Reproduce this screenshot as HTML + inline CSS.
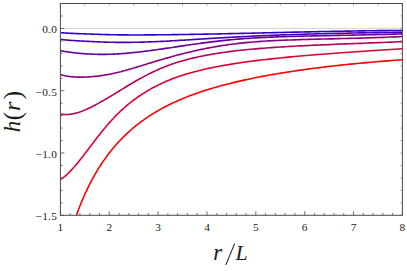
<!DOCTYPE html>
<html><head><meta charset="utf-8"><title>plot</title>
<style>
html,body{margin:0;padding:0;background:#fff;}
body{width:407px;height:271px;position:relative;overflow:hidden;font-family:"Liberation Serif",serif;}
</style></head><body>
<svg width="407" height="271" viewBox="0 0 407 271" style="position:absolute;left:0;top:0">
<defs><clipPath id="cp"><rect x="60.4" y="3.5" width="342.0" height="211.8"/></clipPath></defs>
<line x1="60.4" y1="28.42" x2="402.4" y2="28.42" stroke="#d4d4d4" stroke-width="1"/>
<g clip-path="url(#cp)" fill="none" stroke-width="1.6" stroke-linejoin="round">
<path d="M60.4,32.65 L60.9,32.69 L61.4,32.74 L62.0,32.78 L62.5,32.82 L63.0,32.86 L63.6,32.90 L64.1,32.94 L64.7,32.98 L65.2,33.02 L65.8,33.05 L66.4,33.09 L66.9,33.12 L67.5,33.15 L68.1,33.18 L68.7,33.22 L69.3,33.25 L69.9,33.28 L70.5,33.31 L71.1,33.33 L71.8,33.36 L72.4,33.39 L73.0,33.42 L73.7,33.45 L74.3,33.47 L75.0,33.50 L75.7,33.53 L76.3,33.55 L77.0,33.58 L77.7,33.60 L78.4,33.63 L79.1,33.66 L79.8,33.68 L80.5,33.71 L81.2,33.74 L82.0,33.76 L82.7,33.79 L83.5,33.82 L84.2,33.85 L85.0,33.87 L85.8,33.90 L86.5,33.93 L87.3,33.96 L88.1,33.99 L88.9,34.02 L89.7,34.05 L90.6,34.08 L91.4,34.11 L92.2,34.14 L93.1,34.17 L93.9,34.20 L94.8,34.23 L95.7,34.26 L96.5,34.29 L97.4,34.32 L98.3,34.35 L99.3,34.38 L100.2,34.41 L101.1,34.44 L102.0,34.47 L103.0,34.50 L104.0,34.53 L104.9,34.55 L105.9,34.58 L106.9,34.61 L107.9,34.63 L108.9,34.66 L109.9,34.68 L111.0,34.70 L112.0,34.73 L113.1,34.75 L114.1,34.77 L115.2,34.79 L116.3,34.80 L117.4,34.82 L118.5,34.84 L119.6,34.85 L120.8,34.87 L121.9,34.88 L123.1,34.89 L124.3,34.90 L125.4,34.91 L126.6,34.92 L127.8,34.92 L129.1,34.93 L130.3,34.93 L131.6,34.94 L132.8,34.94 L134.1,34.94 L135.4,34.94 L136.7,34.94 L138.0,34.94 L139.3,34.94 L140.7,34.94 L142.0,34.93 L143.4,34.93 L144.8,34.92 L146.2,34.91 L147.6,34.90 L149.0,34.89 L150.5,34.88 L151.9,34.87 L153.4,34.86 L154.9,34.85 L156.4,34.84 L157.9,34.82 L159.4,34.81 L161.0,34.79 L162.6,34.78 L164.2,34.76 L165.8,34.74 L167.4,34.72 L169.0,34.70 L170.7,34.68 L172.3,34.66 L174.0,34.64 L175.7,34.62 L177.5,34.59 L179.2,34.57 L181.0,34.54 L182.7,34.52 L184.5,34.49 L186.4,34.46 L188.2,34.43 L190.1,34.41 L191.9,34.37 L193.8,34.34 L195.7,34.31 L197.7,34.28 L199.6,34.25 L201.6,34.21 L203.6,34.17 L205.6,34.14 L207.7,34.10 L209.7,34.06 L211.8,34.02 L213.9,33.98 L216.0,33.94 L218.2,33.90 L220.3,33.85 L222.5,33.81 L224.8,33.76 L227.0,33.72 L229.3,33.67 L231.5,33.62 L233.9,33.57 L236.2,33.52 L238.5,33.47 L240.9,33.41 L243.3,33.36 L245.8,33.30 L248.2,33.24 L250.7,33.19 L253.2,33.13 L255.8,33.07 L258.3,33.01 L260.9,32.94 L263.6,32.88 L266.2,32.82 L268.9,32.75 L271.6,32.69 L274.3,32.62 L277.1,32.56 L279.9,32.49 L282.7,32.43 L285.5,32.36 L288.4,32.29 L291.3,32.23 L294.2,32.16 L297.2,32.09 L300.2,32.03 L303.3,31.96 L306.3,31.89 L309.4,31.83 L312.5,31.76 L315.7,31.69 L318.9,31.63 L322.1,31.57 L325.4,31.50 L328.7,31.44 L332.0,31.38 L335.4,31.32 L338.8,31.25 L342.2,31.20 L345.7,31.14 L349.2,31.08 L352.8,31.02 L356.3,30.97 L360.0,30.91 L363.6,30.86 L367.3,30.81 L371.1,30.76 L374.8,30.71 L378.6,30.67 L382.5,30.62 L386.4,30.58 L390.3,30.54 L394.3,30.50 L398.3,30.46 L402.4,30.43" stroke="#3000cc"/>
<path d="M60.4,39.30 L60.9,39.37 L61.4,39.44 L62.0,39.51 L62.5,39.58 L63.0,39.64 L63.6,39.71 L64.1,39.77 L64.7,39.83 L65.2,39.89 L65.8,39.94 L66.4,40.00 L66.9,40.05 L67.5,40.11 L68.1,40.16 L68.7,40.21 L69.3,40.26 L69.9,40.30 L70.5,40.35 L71.1,40.40 L71.8,40.44 L72.4,40.49 L73.0,40.53 L73.7,40.57 L74.3,40.62 L75.0,40.66 L75.7,40.70 L76.3,40.74 L77.0,40.78 L77.7,40.82 L78.4,40.86 L79.1,40.90 L79.8,40.94 L80.5,40.98 L81.2,41.02 L82.0,41.06 L82.7,41.10 L83.5,41.14 L84.2,41.18 L85.0,41.22 L85.8,41.26 L86.5,41.30 L87.3,41.34 L88.1,41.38 L88.9,41.42 L89.7,41.46 L90.6,41.50 L91.4,41.55 L92.2,41.59 L93.1,41.63 L93.9,41.67 L94.8,41.71 L95.7,41.75 L96.5,41.79 L97.4,41.83 L98.3,41.86 L99.3,41.90 L100.2,41.94 L101.1,41.97 L102.0,42.01 L103.0,42.04 L104.0,42.07 L104.9,42.10 L105.9,42.13 L106.9,42.16 L107.9,42.19 L108.9,42.22 L109.9,42.24 L111.0,42.26 L112.0,42.28 L113.1,42.30 L114.1,42.32 L115.2,42.34 L116.3,42.35 L117.4,42.36 L118.5,42.37 L119.6,42.38 L120.8,42.39 L121.9,42.39 L123.1,42.39 L124.3,42.39 L125.4,42.39 L126.6,42.38 L127.8,42.38 L129.1,42.36 L130.3,42.35 L131.6,42.34 L132.8,42.32 L134.1,42.30 L135.4,42.28 L136.7,42.25 L138.0,42.23 L139.3,42.20 L140.7,42.16 L142.0,42.13 L143.4,42.09 L144.8,42.05 L146.2,42.00 L147.6,41.96 L149.0,41.91 L150.5,41.86 L151.9,41.80 L153.4,41.75 L154.9,41.68 L156.4,41.62 L157.9,41.56 L159.4,41.49 L161.0,41.41 L162.6,41.34 L164.2,41.26 L165.8,41.18 L167.4,41.09 L169.0,41.01 L170.7,40.91 L172.3,40.82 L174.0,40.72 L175.7,40.62 L177.5,40.52 L179.2,40.42 L181.0,40.31 L182.7,40.20 L184.5,40.09 L186.4,39.98 L188.2,39.86 L190.1,39.74 L191.9,39.63 L193.8,39.51 L195.7,39.38 L197.7,39.26 L199.6,39.14 L201.6,39.01 L203.6,38.88 L205.6,38.76 L207.7,38.63 L209.7,38.50 L211.8,38.37 L213.9,38.24 L216.0,38.11 L218.2,37.98 L220.3,37.86 L222.5,37.73 L224.8,37.60 L227.0,37.47 L229.3,37.34 L231.5,37.21 L233.9,37.08 L236.2,36.96 L238.5,36.83 L240.9,36.71 L243.3,36.59 L245.8,36.46 L248.2,36.34 L250.7,36.23 L253.2,36.11 L255.8,35.99 L258.3,35.88 L260.9,35.76 L263.6,35.65 L266.2,35.54 L268.9,35.43 L271.6,35.33 L274.3,35.22 L277.1,35.12 L279.9,35.01 L282.7,34.91 L285.5,34.81 L288.4,34.71 L291.3,34.62 L294.2,34.52 L297.2,34.43 L300.2,34.33 L303.3,34.24 L306.3,34.15 L309.4,34.06 L312.5,33.98 L315.7,33.89 L318.9,33.81 L322.1,33.73 L325.4,33.64 L328.7,33.57 L332.0,33.49 L335.4,33.41 L338.8,33.34 L342.2,33.26 L345.7,33.19 L349.2,33.12 L352.8,33.05 L356.3,32.98 L360.0,32.92 L363.6,32.85 L367.3,32.79 L371.1,32.73 L374.8,32.66 L378.6,32.61 L382.5,32.55 L386.4,32.49 L390.3,32.44 L394.3,32.38 L398.3,32.33 L402.4,32.28" stroke="#4800b8"/>
<path d="M60.4,50.70 L60.9,50.79 L61.4,50.88 L62.0,50.98 L62.5,51.07 L63.0,51.16 L63.6,51.25 L64.1,51.34 L64.7,51.43 L65.2,51.52 L65.8,51.61 L66.4,51.70 L66.9,51.78 L67.5,51.87 L68.1,51.96 L68.7,52.04 L69.3,52.13 L69.9,52.21 L70.5,52.30 L71.1,52.38 L71.8,52.46 L72.4,52.54 L73.0,52.62 L73.7,52.70 L74.3,52.78 L75.0,52.86 L75.7,52.93 L76.3,53.00 L77.0,53.08 L77.7,53.15 L78.4,53.22 L79.1,53.29 L79.8,53.35 L80.5,53.42 L81.2,53.48 L82.0,53.55 L82.7,53.61 L83.5,53.66 L84.2,53.72 L85.0,53.78 L85.8,53.83 L86.5,53.88 L87.3,53.93 L88.1,53.98 L88.9,54.03 L89.7,54.07 L90.6,54.11 L91.4,54.15 L92.2,54.18 L93.1,54.22 L93.9,54.25 L94.8,54.27 L95.7,54.30 L96.5,54.32 L97.4,54.34 L98.3,54.35 L99.3,54.36 L100.2,54.37 L101.1,54.38 L102.0,54.38 L103.0,54.38 L104.0,54.37 L104.9,54.36 L105.9,54.35 L106.9,54.33 L107.9,54.31 L108.9,54.28 L109.9,54.25 L111.0,54.22 L112.0,54.18 L113.1,54.14 L114.1,54.09 L115.2,54.03 L116.3,53.98 L117.4,53.91 L118.5,53.85 L119.6,53.77 L120.8,53.69 L121.9,53.61 L123.1,53.52 L124.3,53.43 L125.4,53.33 L126.6,53.23 L127.8,53.12 L129.1,53.01 L130.3,52.89 L131.6,52.77 L132.8,52.64 L134.1,52.51 L135.4,52.37 L136.7,52.23 L138.0,52.08 L139.3,51.93 L140.7,51.77 L142.0,51.61 L143.4,51.44 L144.8,51.27 L146.2,51.10 L147.6,50.92 L149.0,50.73 L150.5,50.54 L151.9,50.35 L153.4,50.15 L154.9,49.95 L156.4,49.74 L157.9,49.53 L159.4,49.31 L161.0,49.09 L162.6,48.86 L164.2,48.64 L165.8,48.40 L167.4,48.16 L169.0,47.92 L170.7,47.67 L172.3,47.42 L174.0,47.17 L175.7,46.91 L177.5,46.65 L179.2,46.39 L181.0,46.13 L182.7,45.86 L184.5,45.59 L186.4,45.32 L188.2,45.05 L190.1,44.78 L191.9,44.51 L193.8,44.24 L195.7,43.97 L197.7,43.70 L199.6,43.43 L201.6,43.16 L203.6,42.89 L205.6,42.63 L207.7,42.36 L209.7,42.10 L211.8,41.85 L213.9,41.59 L216.0,41.34 L218.2,41.09 L220.3,40.85 L222.5,40.61 L224.8,40.37 L227.0,40.14 L229.3,39.92 L231.5,39.70 L233.9,39.49 L236.2,39.28 L238.5,39.08 L240.9,38.89 L243.3,38.70 L245.8,38.52 L248.2,38.35 L250.7,38.18 L253.2,38.03 L255.8,37.88 L258.3,37.73 L260.9,37.60 L263.6,37.47 L266.2,37.34 L268.9,37.22 L271.6,37.11 L274.3,37.00 L277.1,36.89 L279.9,36.79 L282.7,36.70 L285.5,36.61 L288.4,36.52 L291.3,36.43 L294.2,36.35 L297.2,36.28 L300.2,36.20 L303.3,36.13 L306.3,36.05 L309.4,35.98 L312.5,35.92 L315.7,35.85 L318.9,35.78 L322.1,35.72 L325.4,35.65 L328.7,35.59 L332.0,35.52 L335.4,35.46 L338.8,35.39 L342.2,35.32 L345.7,35.26 L349.2,35.19 L352.8,35.11 L356.3,35.04 L360.0,34.96 L363.6,34.89 L367.3,34.80 L371.1,34.72 L374.8,34.63 L378.6,34.54 L382.5,34.44 L386.4,34.34 L390.3,34.24 L394.3,34.13 L398.3,34.01 L402.4,33.89" stroke="#64009e"/>
<path d="M60.4,74.49 L60.9,74.66 L61.4,74.82 L62.0,74.98 L62.5,75.13 L63.0,75.28 L63.6,75.42 L64.1,75.55 L64.7,75.68 L65.2,75.80 L65.8,75.92 L66.4,76.03 L66.9,76.13 L67.5,76.23 L68.1,76.32 L68.7,76.41 L69.3,76.49 L69.9,76.57 L70.5,76.64 L71.1,76.71 L71.8,76.77 L72.4,76.82 L73.0,76.87 L73.7,76.92 L74.3,76.96 L75.0,77.00 L75.7,77.03 L76.3,77.05 L77.0,77.08 L77.7,77.09 L78.4,77.11 L79.1,77.11 L79.8,77.12 L80.5,77.12 L81.2,77.11 L82.0,77.10 L82.7,77.09 L83.5,77.08 L84.2,77.05 L85.0,77.03 L85.8,77.00 L86.5,76.97 L87.3,76.93 L88.1,76.89 L88.9,76.85 L89.7,76.80 L90.6,76.74 L91.4,76.68 L92.2,76.62 L93.1,76.55 L93.9,76.47 L94.8,76.39 L95.7,76.30 L96.5,76.21 L97.4,76.11 L98.3,76.00 L99.3,75.89 L100.2,75.77 L101.1,75.64 L102.0,75.51 L103.0,75.36 L104.0,75.22 L104.9,75.06 L105.9,74.90 L106.9,74.72 L107.9,74.54 L108.9,74.36 L109.9,74.16 L111.0,73.95 L112.0,73.74 L113.1,73.51 L114.1,73.28 L115.2,73.04 L116.3,72.79 L117.4,72.53 L118.5,72.26 L119.6,71.98 L120.8,71.69 L121.9,71.38 L123.1,71.08 L124.3,70.76 L125.4,70.43 L126.6,70.09 L127.8,69.75 L129.1,69.39 L130.3,69.03 L131.6,68.67 L132.8,68.29 L134.1,67.91 L135.4,67.52 L136.7,67.13 L138.0,66.73 L139.3,66.32 L140.7,65.91 L142.0,65.49 L143.4,65.07 L144.8,64.64 L146.2,64.21 L147.6,63.77 L149.0,63.33 L150.5,62.89 L151.9,62.44 L153.4,61.99 L154.9,61.54 L156.4,61.09 L157.9,60.63 L159.4,60.17 L161.0,59.71 L162.6,59.25 L164.2,58.79 L165.8,58.33 L167.4,57.86 L169.0,57.40 L170.7,56.93 L172.3,56.47 L174.0,56.01 L175.7,55.55 L177.5,55.09 L179.2,54.63 L181.0,54.17 L182.7,53.72 L184.5,53.26 L186.4,52.81 L188.2,52.37 L190.1,51.93 L191.9,51.49 L193.8,51.05 L195.7,50.62 L197.7,50.20 L199.6,49.77 L201.6,49.36 L203.6,48.95 L205.6,48.55 L207.7,48.15 L209.7,47.76 L211.8,47.37 L213.9,46.99 L216.0,46.63 L218.2,46.26 L220.3,45.91 L222.5,45.56 L224.8,45.23 L227.0,44.90 L229.3,44.58 L231.5,44.27 L233.9,43.97 L236.2,43.69 L238.5,43.41 L240.9,43.14 L243.3,42.88 L245.8,42.64 L248.2,42.41 L250.7,42.19 L253.2,41.98 L255.8,41.78 L258.3,41.59 L260.9,41.41 L263.6,41.24 L266.2,41.07 L268.9,40.92 L271.6,40.77 L274.3,40.64 L277.1,40.50 L279.9,40.38 L282.7,40.26 L285.5,40.15 L288.4,40.04 L291.3,39.94 L294.2,39.84 L297.2,39.74 L300.2,39.65 L303.3,39.56 L306.3,39.48 L309.4,39.39 L312.5,39.31 L315.7,39.23 L318.9,39.15 L322.1,39.07 L325.4,38.99 L328.7,38.91 L332.0,38.83 L335.4,38.75 L338.8,38.66 L342.2,38.57 L345.7,38.48 L349.2,38.39 L352.8,38.29 L356.3,38.19 L360.0,38.09 L363.6,37.98 L367.3,37.86 L371.1,37.74 L374.8,37.61 L378.6,37.48 L382.5,37.34 L386.4,37.19 L390.3,37.03 L394.3,36.86 L398.3,36.69 L402.4,36.50" stroke="#8c0082"/>
<path d="M60.4,114.02 L60.9,114.12 L61.4,114.21 L62.0,114.29 L62.5,114.36 L63.0,114.42 L63.6,114.47 L64.1,114.51 L64.7,114.53 L65.2,114.55 L65.8,114.56 L66.4,114.55 L66.9,114.54 L67.5,114.51 L68.1,114.48 L68.7,114.43 L69.3,114.37 L69.9,114.30 L70.5,114.22 L71.1,114.13 L71.8,114.03 L72.4,113.91 L73.0,113.79 L73.7,113.65 L74.3,113.51 L75.0,113.35 L75.7,113.18 L76.3,113.00 L77.0,112.81 L77.7,112.61 L78.4,112.39 L79.1,112.17 L79.8,111.93 L80.5,111.68 L81.2,111.42 L82.0,111.15 L82.7,110.87 L83.5,110.57 L84.2,110.27 L85.0,109.95 L85.8,109.62 L86.5,109.28 L87.3,108.93 L88.1,108.57 L88.9,108.19 L89.7,107.80 L90.6,107.41 L91.4,107.00 L92.2,106.58 L93.1,106.15 L93.9,105.71 L94.8,105.26 L95.7,104.80 L96.5,104.33 L97.4,103.84 L98.3,103.35 L99.3,102.85 L100.2,102.33 L101.1,101.81 L102.0,101.28 L103.0,100.73 L104.0,100.18 L104.9,99.62 L105.9,99.05 L106.9,98.47 L107.9,97.88 L108.9,97.28 L109.9,96.67 L111.0,96.05 L112.0,95.42 L113.1,94.78 L114.1,94.14 L115.2,93.48 L116.3,92.82 L117.4,92.15 L118.5,91.47 L119.6,90.78 L120.8,90.08 L121.9,89.38 L123.1,88.67 L124.3,87.95 L125.4,87.23 L126.6,86.50 L127.8,85.77 L129.1,85.03 L130.3,84.29 L131.6,83.55 L132.8,82.81 L134.1,82.06 L135.4,81.31 L136.7,80.56 L138.0,79.81 L139.3,79.07 L140.7,78.32 L142.0,77.58 L143.4,76.84 L144.8,76.10 L146.2,75.36 L147.6,74.63 L149.0,73.90 L150.5,73.18 L151.9,72.47 L153.4,71.76 L154.9,71.06 L156.4,70.37 L157.9,69.68 L159.4,69.01 L161.0,68.34 L162.6,67.68 L164.2,67.04 L165.8,66.40 L167.4,65.78 L169.0,65.17 L170.7,64.57 L172.3,63.98 L174.0,63.41 L175.7,62.85 L177.5,62.30 L179.2,61.76 L181.0,61.23 L182.7,60.72 L184.5,60.22 L186.4,59.72 L188.2,59.24 L190.1,58.77 L191.9,58.31 L193.8,57.86 L195.7,57.42 L197.7,56.99 L199.6,56.57 L201.6,56.16 L203.6,55.76 L205.6,55.37 L207.7,54.98 L209.7,54.61 L211.8,54.25 L213.9,53.89 L216.0,53.55 L218.2,53.21 L220.3,52.88 L222.5,52.56 L224.8,52.24 L227.0,51.94 L229.3,51.64 L231.5,51.35 L233.9,51.07 L236.2,50.79 L238.5,50.53 L240.9,50.27 L243.3,50.01 L245.8,49.76 L248.2,49.52 L250.7,49.29 L253.2,49.06 L255.8,48.84 L258.3,48.62 L260.9,48.41 L263.6,48.20 L266.2,48.00 L268.9,47.80 L271.6,47.61 L274.3,47.42 L277.1,47.24 L279.9,47.06 L282.7,46.89 L285.5,46.72 L288.4,46.55 L291.3,46.38 L294.2,46.22 L297.2,46.06 L300.2,45.91 L303.3,45.75 L306.3,45.60 L309.4,45.45 L312.5,45.31 L315.7,45.16 L318.9,45.02 L322.1,44.87 L325.4,44.73 L328.7,44.59 L332.0,44.45 L335.4,44.31 L338.8,44.17 L342.2,44.03 L345.7,43.89 L349.2,43.75 L352.8,43.61 L356.3,43.47 L360.0,43.33 L363.6,43.19 L367.3,43.04 L371.1,42.90 L374.8,42.75 L378.6,42.60 L382.5,42.45 L386.4,42.29 L390.3,42.14 L394.3,41.98 L398.3,41.82 L402.4,41.65" stroke="#b4005a"/>
<path d="M60.4,179.54 L60.9,179.23 L61.4,178.91 L62.0,178.56 L62.5,178.20 L63.0,177.81 L63.6,177.40 L64.1,176.98 L64.7,176.53 L65.2,176.06 L65.8,175.57 L66.4,175.07 L66.9,174.54 L67.5,174.00 L68.1,173.43 L68.7,172.85 L69.3,172.25 L69.9,171.63 L70.5,170.99 L71.1,170.33 L71.8,169.66 L72.4,168.96 L73.0,168.25 L73.7,167.52 L74.3,166.77 L75.0,166.01 L75.7,165.23 L76.3,164.43 L77.0,163.61 L77.7,162.78 L78.4,161.93 L79.1,161.06 L79.8,160.18 L80.5,159.28 L81.2,158.36 L82.0,157.43 L82.7,156.49 L83.5,155.52 L84.2,154.54 L85.0,153.55 L85.8,152.54 L86.5,151.52 L87.3,150.48 L88.1,149.43 L88.9,148.37 L89.7,147.29 L90.6,146.21 L91.4,145.11 L92.2,144.01 L93.1,142.89 L93.9,141.77 L94.8,140.64 L95.7,139.51 L96.5,138.36 L97.4,137.22 L98.3,136.06 L99.3,134.91 L100.2,133.75 L101.1,132.58 L102.0,131.42 L103.0,130.25 L104.0,129.09 L104.9,127.92 L105.9,126.76 L106.9,125.59 L107.9,124.43 L108.9,123.27 L109.9,122.12 L111.0,120.97 L112.0,119.82 L113.1,118.69 L114.1,117.55 L115.2,116.43 L116.3,115.31 L117.4,114.20 L118.5,113.10 L119.6,112.01 L120.8,110.93 L121.9,109.86 L123.1,108.80 L124.3,107.75 L125.4,106.72 L126.6,105.69 L127.8,104.67 L129.1,103.67 L130.3,102.67 L131.6,101.69 L132.8,100.71 L134.1,99.75 L135.4,98.80 L136.7,97.86 L138.0,96.93 L139.3,96.02 L140.7,95.11 L142.0,94.22 L143.4,93.34 L144.8,92.46 L146.2,91.61 L147.6,90.76 L149.0,89.92 L150.5,89.10 L151.9,88.29 L153.4,87.49 L154.9,86.70 L156.4,85.92 L157.9,85.16 L159.4,84.41 L161.0,83.67 L162.6,82.95 L164.2,82.23 L165.8,81.53 L167.4,80.84 L169.0,80.17 L170.7,79.50 L172.3,78.85 L174.0,78.21 L175.7,77.59 L177.5,76.97 L179.2,76.37 L181.0,75.78 L182.7,75.20 L184.5,74.63 L186.4,74.07 L188.2,73.52 L190.1,72.98 L191.9,72.46 L193.8,71.94 L195.7,71.43 L197.7,70.93 L199.6,70.44 L201.6,69.96 L203.6,69.49 L205.6,69.03 L207.7,68.58 L209.7,68.13 L211.8,67.69 L213.9,67.26 L216.0,66.84 L218.2,66.43 L220.3,66.02 L222.5,65.62 L224.8,65.23 L227.0,64.84 L229.3,64.46 L231.5,64.09 L233.9,63.72 L236.2,63.36 L238.5,63.01 L240.9,62.66 L243.3,62.31 L245.8,61.97 L248.2,61.64 L250.7,61.31 L253.2,60.98 L255.8,60.66 L258.3,60.35 L260.9,60.04 L263.6,59.73 L266.2,59.42 L268.9,59.12 L271.6,58.83 L274.3,58.53 L277.1,58.24 L279.9,57.96 L282.7,57.68 L285.5,57.40 L288.4,57.12 L291.3,56.84 L294.2,56.57 L297.2,56.30 L300.2,56.04 L303.3,55.77 L306.3,55.51 L309.4,55.25 L312.5,54.99 L315.7,54.73 L318.9,54.48 L322.1,54.22 L325.4,53.97 L328.7,53.72 L332.0,53.47 L335.4,53.22 L338.8,52.97 L342.2,52.72 L345.7,52.47 L349.2,52.22 L352.8,51.98 L356.3,51.73 L360.0,51.48 L363.6,51.23 L367.3,50.99 L371.1,50.74 L374.8,50.49 L378.6,50.24 L382.5,49.99 L386.4,49.74 L390.3,49.48 L394.3,49.23 L398.3,48.97 L402.4,48.72" stroke="#dc0030"/>
<path d="M70.2,236.01 L70.7,233.91 L71.3,231.86 L71.9,229.83 L72.5,227.84 L73.0,225.89 L73.6,223.96 L74.2,222.06 L74.8,220.20 L75.4,218.36 L76.0,216.54 L76.7,214.76 L77.3,213.00 L77.9,211.26 L78.5,209.55 L79.2,207.85 L79.8,206.18 L80.5,204.53 L81.1,202.90 L81.8,201.28 L82.5,199.68 L83.2,198.10 L83.9,196.53 L84.5,194.97 L85.2,193.43 L86.0,191.90 L86.7,190.38 L87.4,188.87 L88.1,187.38 L88.8,185.89 L89.6,184.42 L90.3,182.96 L91.1,181.51 L91.8,180.08 L92.6,178.65 L93.4,177.24 L94.2,175.84 L95.0,174.44 L95.8,173.07 L96.6,171.70 L97.4,170.34 L98.2,168.99 L99.0,167.66 L99.9,166.34 L100.7,165.02 L101.6,163.72 L102.4,162.43 L103.3,161.15 L104.2,159.88 L105.1,158.62 L106.0,157.38 L106.9,156.14 L107.8,154.91 L108.7,153.70 L109.6,152.49 L110.6,151.30 L111.5,150.11 L112.5,148.94 L113.5,147.78 L114.4,146.62 L115.4,145.48 L116.4,144.35 L117.4,143.23 L118.4,142.11 L119.5,141.01 L120.5,139.92 L121.5,138.84 L122.6,137.76 L123.7,136.70 L124.7,135.65 L125.8,134.60 L126.9,133.57 L128.0,132.55 L129.1,131.53 L130.3,130.53 L131.4,129.53 L132.5,128.55 L133.7,127.57 L134.9,126.60 L136.0,125.64 L137.2,124.69 L138.4,123.76 L139.7,122.82 L140.9,121.90 L142.1,120.99 L143.4,120.09 L144.6,119.19 L145.9,118.31 L147.2,117.43 L148.5,116.56 L149.8,115.70 L151.1,114.85 L152.5,114.01 L153.8,113.17 L155.2,112.35 L156.6,111.53 L158.0,110.72 L159.4,109.92 L160.8,109.13 L162.2,108.35 L163.6,107.57 L165.1,106.80 L166.6,106.04 L168.1,105.29 L169.6,104.55 L171.1,103.81 L172.6,103.09 L174.1,102.37 L175.7,101.65 L177.3,100.95 L178.9,100.25 L180.5,99.56 L182.1,98.88 L183.7,98.20 L185.4,97.54 L187.0,96.87 L188.7,96.22 L190.4,95.57 L192.1,94.93 L193.8,94.30 L195.6,93.67 L197.4,93.05 L199.1,92.44 L200.9,91.83 L202.7,91.23 L204.6,90.63 L206.4,90.04 L208.3,89.46 L210.2,88.88 L212.1,88.31 L214.0,87.74 L215.9,87.18 L217.9,86.63 L219.9,86.08 L221.9,85.54 L223.9,85.00 L225.9,84.47 L228.0,83.94 L230.0,83.42 L232.1,82.90 L234.3,82.39 L236.4,81.88 L238.5,81.38 L240.7,80.88 L242.9,80.39 L245.1,79.90 L247.4,79.41 L249.6,78.93 L251.9,78.46 L254.2,77.99 L256.5,77.52 L258.9,77.06 L261.2,76.60 L263.6,76.15 L266.1,75.70 L268.5,75.25 L271.0,74.81 L273.4,74.38 L275.9,73.94 L278.5,73.52 L281.0,73.09 L283.6,72.67 L286.2,72.26 L288.9,71.85 L291.5,71.44 L294.2,71.04 L296.9,70.64 L299.6,70.24 L302.4,69.85 L305.2,69.47 L308.0,69.09 L310.8,68.71 L313.7,68.33 L316.6,67.97 L319.5,67.60 L322.5,67.24 L325.4,66.88 L328.5,66.53 L331.5,66.18 L334.6,65.83 L337.6,65.49 L340.8,65.15 L343.9,64.82 L347.1,64.49 L350.3,64.16 L353.6,63.84 L356.8,63.52 L360.1,63.21 L363.5,62.90 L366.9,62.59 L370.3,62.29 L373.7,61.99 L377.2,61.70 L380.7,61.41 L384.2,61.12 L387.8,60.83 L391.4,60.55 L395.0,60.28 L398.7,60.01 L402.4,59.74" stroke="#ff0000"/>
</g>
<path d="M60.40,215.3 v-4.0 M70.17,215.3 v-2.2 M79.94,215.3 v-2.2 M89.71,215.3 v-2.2 M99.49,215.3 v-2.2 M109.26,215.3 v-4.0 M119.03,215.3 v-2.2 M128.80,215.3 v-2.2 M138.57,215.3 v-2.2 M148.34,215.3 v-2.2 M158.11,215.3 v-4.0 M167.89,215.3 v-2.2 M177.66,215.3 v-2.2 M187.43,215.3 v-2.2 M197.20,215.3 v-2.2 M206.97,215.3 v-4.0 M216.74,215.3 v-2.2 M226.51,215.3 v-2.2 M236.29,215.3 v-2.2 M246.06,215.3 v-2.2 M255.83,215.3 v-4.0 M265.60,215.3 v-2.2 M275.37,215.3 v-2.2 M285.14,215.3 v-2.2 M294.91,215.3 v-2.2 M304.69,215.3 v-4.0 M314.46,215.3 v-2.2 M324.23,215.3 v-2.2 M334.00,215.3 v-2.2 M343.77,215.3 v-2.2 M353.54,215.3 v-4.0 M363.31,215.3 v-2.2 M373.09,215.3 v-2.2 M382.86,215.3 v-2.2 M392.63,215.3 v-2.2 M402.40,215.3 v-4.0 M60.4,215.30 h4.0 M60.4,202.84 h2.2 M60.4,190.38 h2.2 M60.4,177.92 h2.2 M60.4,165.46 h2.2 M60.4,153.01 h4.0 M60.4,140.55 h2.2 M60.4,128.09 h2.2 M60.4,115.63 h2.2 M60.4,103.17 h2.2 M60.4,90.71 h4.0 M60.4,78.25 h2.2 M60.4,65.79 h2.2 M60.4,53.34 h2.2 M60.4,40.88 h2.2 M60.4,28.42 h4.0 M60.4,15.96 h2.2 M60.4,3.50 h2.2" stroke="#4a4a4a" stroke-width="0.8" fill="none"/>
<path d="M60.40,3.5 v2.6 M84.83,3.5 v2.6 M109.26,3.5 v2.6 M133.69,3.5 v2.6 M158.11,3.5 v2.6 M182.54,3.5 v2.6 M206.97,3.5 v2.6 M231.40,3.5 v2.6 M255.83,3.5 v2.6 M280.26,3.5 v2.6 M304.69,3.5 v2.6 M329.11,3.5 v2.6 M353.54,3.5 v2.6 M377.97,3.5 v2.6 M402.40,3.5 v2.6 M402.4,215.30 h-2.4 M402.4,202.84 h-2.4 M402.4,190.38 h-2.4 M402.4,177.92 h-2.4 M402.4,165.46 h-2.4 M402.4,153.01 h-2.4 M402.4,140.55 h-2.4 M402.4,128.09 h-2.4 M402.4,115.63 h-2.4 M402.4,103.17 h-2.4 M402.4,90.71 h-2.4 M402.4,78.25 h-2.4 M402.4,65.79 h-2.4 M402.4,53.34 h-2.4 M402.4,40.88 h-2.4 M402.4,28.42 h-2.4 M402.4,15.96 h-2.4 M402.4,3.50 h-2.4" stroke="#8a8a8a" stroke-width="0.6" fill="none"/>
<rect x="60.4" y="3.5" width="342.0" height="211.8" fill="none" stroke="#4a4a4a" stroke-width="1"/>
<g font-family="Liberation Serif, serif" font-size="11.3px" fill="#1a1a1a">
<text x="60.40" y="231.2" text-anchor="middle">1</text>
<text x="109.26" y="231.2" text-anchor="middle">2</text>
<text x="158.11" y="231.2" text-anchor="middle">3</text>
<text x="206.97" y="231.2" text-anchor="middle">4</text>
<text x="255.83" y="231.2" text-anchor="middle">5</text>
<text x="304.69" y="231.2" text-anchor="middle">6</text>
<text x="353.54" y="231.2" text-anchor="middle">7</text>
<text x="402.40" y="231.2" text-anchor="middle">8</text>
<text x="57.2" y="33.22" text-anchor="end" letter-spacing="0.3">0.0</text>
<text x="57.2" y="95.51" text-anchor="end" letter-spacing="0.3">−0.5</text>
<text x="57.2" y="157.81" text-anchor="end" letter-spacing="0.3">−1.0</text>
<text x="57.2" y="220.10" text-anchor="end" letter-spacing="0.3">−1.5</text>
</g>
<g font-family="Liberation Serif, serif" font-style="italic" fill="#1c1c1c">
<text x="213.3" y="260.3" font-size="23px">r</text>
<line x1="225.8" y1="265" x2="234.6" y2="243.6" stroke="#111" stroke-width="1"/>
<text x="235.6" y="260.3" font-size="22px">L</text>
<g transform="translate(20.4,0) rotate(-90)"><text x="-132.2" y="0" font-size="23px">h</text><text x="-120.2" y="0.4" font-size="25px" font-style="normal">(</text><text x="-111.0" y="0" font-size="24px">r</text><text x="-99.3" y="0.4" font-size="25px" font-style="normal">)</text></g>
</g>
</svg>
</body></html>
